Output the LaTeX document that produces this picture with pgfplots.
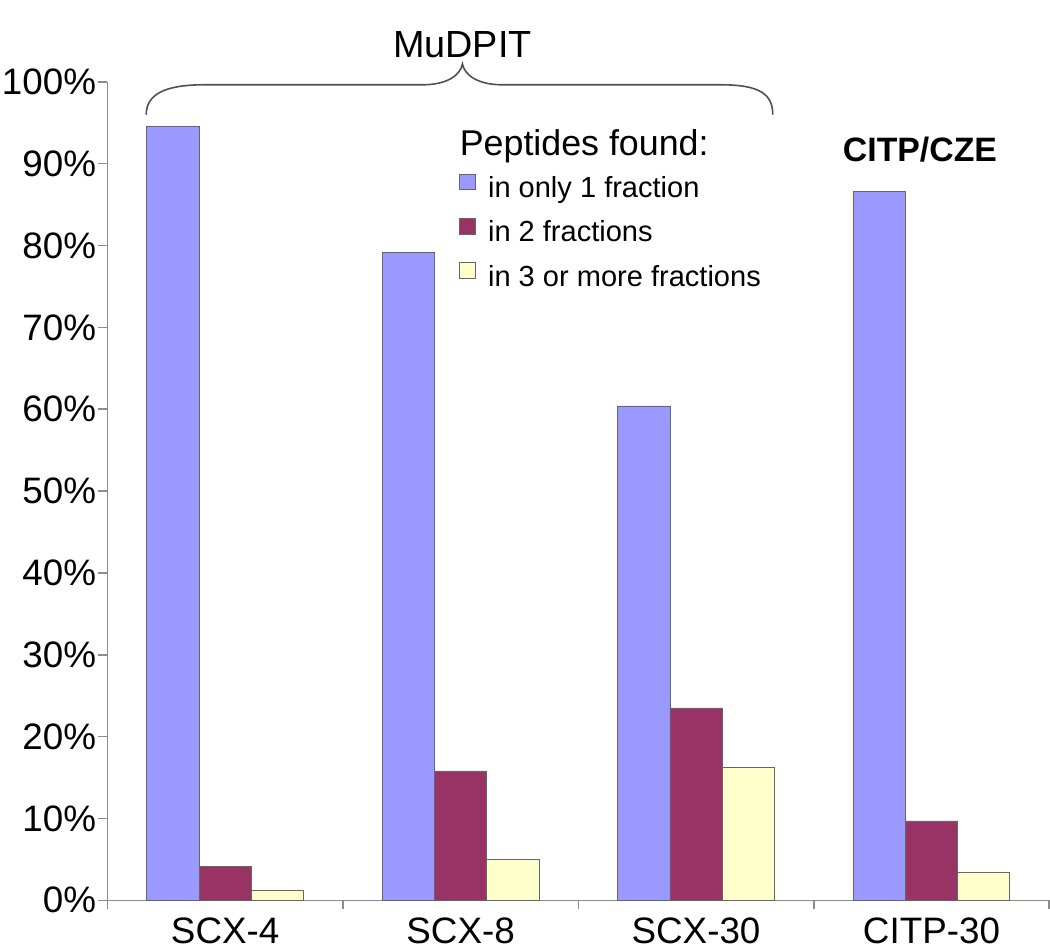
\documentclass[border=0pt]{standalone}
\usepackage{pgfplots}
\pgfplotsset{compat=1.18}
\usepackage{fontspec}
\setmainfont{Liberation Sans}
\definecolor{cblue}{HTML}{9999FF}
\definecolor{cred}{HTML}{993366}
\definecolor{cyel}{HTML}{FFFFCC}
\definecolor{axgray}{HTML}{8C8C8C}
\definecolor{brgray}{HTML}{505050}
\begin{document}
\begin{tikzpicture}
\begin{axis}[
  scale only axis, width=473.5pt, height=411.5pt,
  xmin=-0.5, xmax=3.5, ymin=0, ymax=100,
  axis x line*=bottom, axis y line*=left,
  axis line style={axgray, line width=0.8pt},
  tick style={axgray, line width=0.8pt},
  tick align=outside, major tick length=4.5pt,
  ybar=0pt, bar width=26.25pt,
  xtick={-0.5,0.5,1.5,2.5,3.5},
  xticklabels={SCX-4,SCX-8,SCX-30,CITP-30},
  x tick label as interval,
  ytick={0,10,...,100},
  yticklabel={\pgfmathprintnumber{\tick}\%},
  /pgf/number format/assume math mode=true,
  ticklabel style={font=\fontsize{18.5}{20}\selectfont, text=black},
  yticklabel style={inner sep=1pt},
  xticklabel style={inner sep=4pt},
  clip=false,
  legend style={at={(axis cs:0.995,88.8)}, anchor=north west, draw=none, fill=none,
    inner sep=0pt, outer sep=0pt, font=\fontsize{14.6}{16}\selectfont,
    row sep=7pt, nodes={text height=11pt, text depth=3pt, inner sep=0pt},
    /tikz/every odd column/.append style={column sep=6pt}},
  legend cell align=left,
  legend image code/.code={\draw[#1, line width=0.4pt] (0pt,0pt) rectangle (8pt,8pt);},
]
\addplot[fill=cblue, draw=black!60, line width=0.4pt] coordinates {(0,94.6) (1,79.2) (2,60.4) (3,86.6)};
\addplot[fill=cred, draw=black!60, line width=0.4pt] coordinates {(0,4.1) (1,15.8) (2,23.5) (3,9.7)};
\addplot[fill=cyel, draw=black!60, line width=0.4pt] coordinates {(0,1.2) (1,5.0) (2,16.2) (3,3.4)};
\legend{in only 1 fraction, in 2 fractions, in 3 or more fractions}
\node[anchor=base west, inner sep=0pt, font=\fontsize{18}{20}\selectfont] at (axis cs:0.995,91.0) {Peptides found:};
\node[anchor=base, inner sep=0pt, font=\fontsize{19}{21}\selectfont] at (axis cs:1.008,103.0) {MuDPIT};
\node[anchor=base, inner sep=0pt, font=\bfseries\fontsize{17}{19}\selectfont] at (axis cs:2.951,90.3) {CITP/CZE};
\draw[brgray, line width=0.8pt]
  (axis cs:-0.3353,95.99) .. controls (axis cs:-0.3353,98.42) and (axis cs:-0.2592,99.64) .. (axis cs:-0.0903,99.64)
  -- (axis cs:0.8390,99.64) .. controls (axis cs:0.9445,99.64) and (axis cs:0.9995,100.85) .. (axis cs:1.0079,102.19)
  .. controls (axis cs:1.0164,100.85) and (axis cs:1.0713,99.64) .. (axis cs:1.1769,99.64)
  -- (axis cs:2.1061,99.64) .. controls (axis cs:2.2751,99.64) and (axis cs:2.3258,98.42) .. (axis cs:2.3258,95.99);
\path (axis cs:0,110);
\end{axis}
\end{tikzpicture}
\end{document}
